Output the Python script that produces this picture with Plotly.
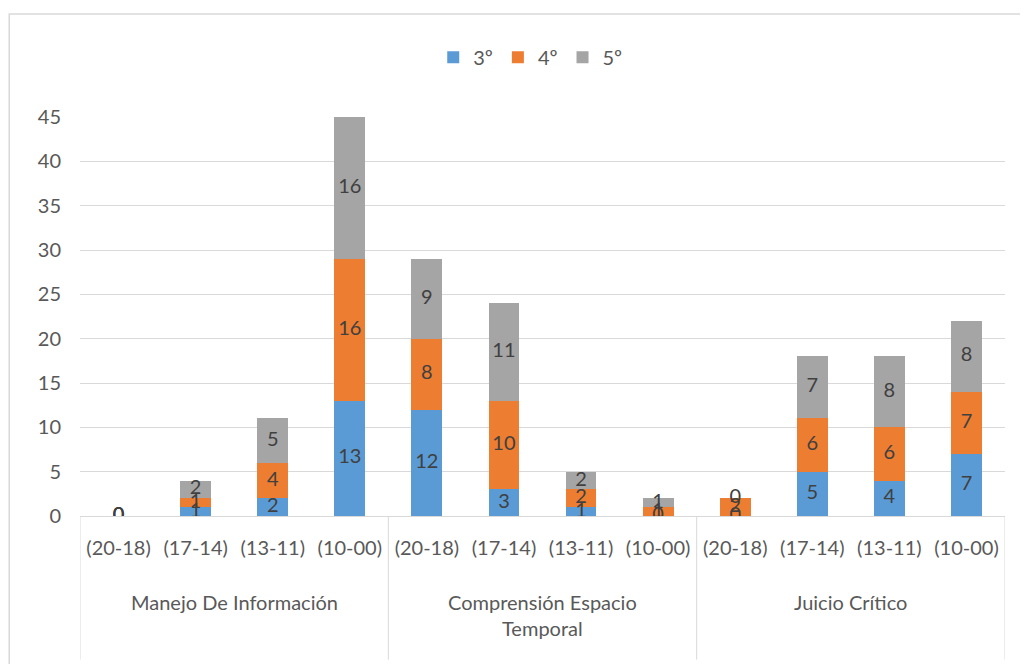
import plotly.graph_objects as go

groups = ["Manejo De Información", "Comprensión Espacio<br>Temporal", "Juicio Crítico"]
ranges = ["(20-18)", "(17-14)", "(13-11)", "(10-00)"]

grado_3 = [0, 1, 2, 13, 12, 3, 1, 0, 0, 5, 4, 7]
grado_4 = [0, 1, 4, 16, 8, 10, 2, 1, 2, 6, 6, 7]
grado_5 = [0, 2, 5, 16, 9, 11, 2, 1, 0, 7, 8, 8]

series = [("3º", grado_3, "#5B9BD5"), ("4º", grado_4, "#ED7D31"), ("5º", grado_5, "#A5A5A5")]

pos = list(range(len(grado_3)))
tick_text = [r for _ in groups for r in ranges]

FONT = "Lato, Liberation Sans, Arial"
GREY = "#595959"
LINE = "#D9D9D9"

fig = go.Figure()

# stacked bars
for name, vals, color in series:
    fig.add_trace(go.Bar(x=pos, y=vals, name=name, marker=dict(color=color, line=dict(width=0))))

# data labels at the middle of each segment (zeros sit on the base)
base = [0] * len(grado_3)
for name, vals, color in series:
    mid = [b + v / 2 for b, v in zip(base, vals)]
    fig.add_trace(go.Scatter(x=pos, y=mid, mode="text", text=[str(v) for v in vals],
                             textfont=dict(size=20, color="#404040", family=FONT),
                             showlegend=False, hoverinfo="skip"))
    base = [b + v for b, v in zip(base, vals)]

# group labels and dividers under the axis
n = len(ranges)
for i, g in enumerate(groups):
    fig.add_annotation(x=i * n + (n - 1) / 2, y=-0.18, xref="x", yref="paper", text=g,
                       showarrow=False, yanchor="top", font=dict(size=20, color=GREY, family=FONT))
for i in range(len(groups) + 1):
    fig.add_shape(type="line", xref="x", yref="paper", x0=i * n - 0.5, x1=i * n - 0.5,
                  y0=0, y1=-0.36, line=dict(color=LINE, width=1))

# outer chart border
fig.add_shape(type="rect", xref="paper", yref="paper", x0=-0.0765, x1=1.1, y0=-0.6, y1=1.258,
              line=dict(color=LINE, width=1.5), fillcolor="rgba(0,0,0,0)", layer="below")

# page body adds 8px margin, so the figure is 8px smaller and shifted accordingly
fig.update_layout(
    width=1020, height=656,
    barmode="stack", bargap=0.6,
    margin=dict(l=72, r=23, t=109, b=148),
    paper_bgcolor="white", plot_bgcolor="white",
    font=dict(family=FONT, size=19, color=GREY),
    legend=dict(orientation="h", xref="container", yref="container", x=0.512, xanchor="center",
                y=0.925, yanchor="middle", font=dict(size=20, color=GREY),
                traceorder="normal", itemwidth=30),
)
fig.update_xaxes(range=[-0.5, 11.5], tickvals=pos, ticktext=tick_text, showgrid=False,
                 showline=True, linecolor=LINE, ticks="", tickfont=dict(size=20, color=GREY),
                 ticklabelstandoff=14, automargin=False, zeroline=False)
fig.update_yaxes(range=[0, 45], dtick=5, showgrid=True, gridcolor=LINE, zeroline=False,
                 showline=False, tickfont=dict(size=20, color=GREY), ticklabelstandoff=18,
                 automargin=False)

fig.write_html("out.html")
